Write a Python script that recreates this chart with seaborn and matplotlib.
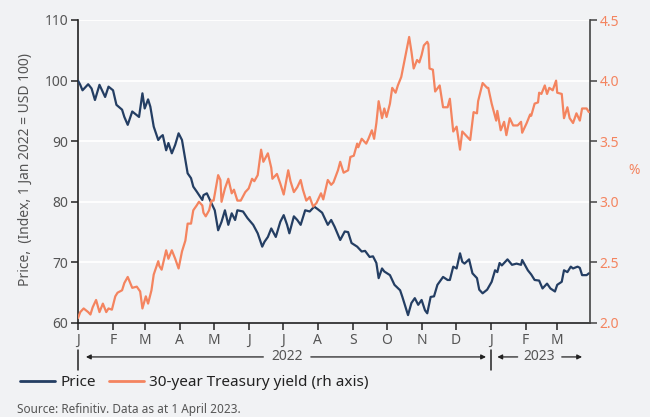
import matplotlib
matplotlib.use("Agg")
import matplotlib.pyplot as plt
import matplotlib.dates as mdates
import matplotlib.transforms as mtransforms
from matplotlib.lines import Line2D
import seaborn as sns
import pandas as pd

# ---------------- data ----------------
price_dates = [
    "2022-01-01", "2022-01-03", "2022-01-05", "2022-01-10", "2022-01-13", "2022-01-16",
    "2022-01-20", "2022-01-25", "2022-01-28", "2022-02-01", "2022-02-04", "2022-02-09",
    "2022-02-11", "2022-02-14", "2022-02-18", "2022-02-22", "2022-02-24", "2022-02-27",
    "2022-03-01", "2022-03-04", "2022-03-06", "2022-03-09", "2022-03-13", "2022-03-15",
    "2022-03-17", "2022-03-20", "2022-03-22", "2022-03-25", "2022-03-28", "2022-03-31",
    "2022-04-03", "2022-04-06", "2022-04-08", "2022-04-11", "2022-04-13", "2022-04-16",
    "2022-04-21", "2022-04-22", "2022-04-25", "2022-04-29", "2022-05-02", "2022-05-05",
    "2022-05-08", "2022-05-11", "2022-05-14", "2022-05-17", "2022-05-20", "2022-05-22",
    "2022-05-27", "2022-05-31", "2022-06-05", "2022-06-09", "2022-06-13", "2022-06-15",
    "2022-06-18", "2022-06-21", "2022-06-25", "2022-06-29", "2022-07-02", "2022-07-05",
    "2022-07-07", "2022-07-11", "2022-07-14", "2022-07-17", "2022-07-21", "2022-07-25",
    "2022-07-29", "2022-08-01", "2022-08-05", "2022-08-10", "2022-08-13", "2022-08-16",
    "2022-08-21", "2022-08-25", "2022-08-28", "2022-08-31", "2022-09-05", "2022-09-09",
    "2022-09-12", "2022-09-16", "2022-09-19", "2022-09-22", "2022-09-24", "2022-09-27",
    "2022-09-29", "2022-10-04", "2022-10-08", "2022-10-13", "2022-10-15", "2022-10-20",
    "2022-10-23", "2022-10-26", "2022-10-29", "2022-11-01", "2022-11-04", "2022-11-06",
    "2022-11-09", "2022-11-12", "2022-11-15", "2022-11-20", "2022-11-24", "2022-11-26",
    "2022-11-29", "2022-12-02", "2022-12-05", "2022-12-07", "2022-12-09", "2022-12-13",
    "2022-12-16", "2022-12-20", "2022-12-22", "2022-12-25", "2022-12-29", "2023-01-02",
    "2023-01-05", "2023-01-07", "2023-01-09", "2023-01-11", "2023-01-13", "2023-01-16",
    "2023-01-20", "2023-01-24", "2023-01-28", "2023-01-29", "2023-02-03", "2023-02-06",
    "2023-02-09", "2023-02-13", "2023-02-16", "2023-02-20", "2023-02-23", "2023-02-27",
    "2023-03-01", "2023-03-05", "2023-03-07", "2023-03-10", "2023-03-13", "2023-03-15",
    "2023-03-19", "2023-03-21", "2023-03-23", "2023-03-27", "2023-03-29",
]
price_values = [
    100.0, 99.3, 98.4, 99.4, 98.7, 96.8,
    99.3, 97.3, 99.0, 98.4, 96.0, 95.2,
    94.0, 92.7, 94.9, 94.3, 94.0, 97.9,
    95.4, 96.9, 95.7, 92.4, 90.2, 90.7,
    91.0, 88.5, 89.7, 88.0, 89.4, 91.3,
    90.2, 86.9, 84.7, 83.9, 82.5, 81.7,
    80.3, 81.1, 81.4, 79.8, 78.6, 75.3,
    76.7, 78.6, 76.2, 78.1, 77.0, 78.6,
    78.4, 77.3, 76.2, 74.8, 72.6, 73.4,
    74.2, 75.6, 74.2, 76.7, 77.8, 76.2,
    74.8, 77.6, 77.0, 76.2, 78.6, 78.4,
    79.2, 78.8, 78.2, 76.2, 77.0, 75.9,
    73.7, 75.1, 75.0, 73.2, 72.6, 71.8,
    71.9, 70.9, 71.0, 69.9, 67.4, 69.0,
    68.5, 67.9, 66.3, 65.4, 64.3, 61.3,
    63.3, 64.1, 63.0, 63.8, 62.1, 61.6,
    64.3, 64.4, 66.3, 67.6, 67.1, 67.1,
    69.3, 69.0, 71.5, 70.1, 69.8, 70.5,
    68.2, 67.4, 65.5, 64.9, 65.5, 66.8,
    68.7, 68.4, 69.9, 69.5, 69.9, 70.5,
    69.6, 69.8, 69.6, 70.4, 68.7, 68.0,
    67.1, 67.0, 65.7, 66.5, 65.7, 65.2,
    66.3, 66.8, 68.7, 68.4, 69.3, 69.0,
    69.3, 69.1, 67.9, 67.9, 68.2,
]

yield_dates = [
    "2022-01-01", "2022-01-03", "2022-01-06", "2022-01-10", "2022-01-12", "2022-01-14",
    "2022-01-17", "2022-01-20", "2022-01-23", "2022-01-26", "2022-01-28", "2022-01-31",
    "2022-02-03", "2022-02-05", "2022-02-09", "2022-02-11", "2022-02-14", "2022-02-18",
    "2022-02-22", "2022-02-25", "2022-02-27", "2022-03-02", "2022-03-04", "2022-03-07",
    "2022-03-09", "2022-03-13", "2022-03-14", "2022-03-16", "2022-03-20", "2022-03-22",
    "2022-03-25", "2022-03-28", "2022-03-31", "2022-04-03", "2022-04-06", "2022-04-08",
    "2022-04-11", "2022-04-13", "2022-04-16", "2022-04-18", "2022-04-21", "2022-04-22",
    "2022-04-24", "2022-04-27", "2022-04-29", "2022-05-01", "2022-05-05", "2022-05-07",
    "2022-05-08", "2022-05-11", "2022-05-14", "2022-05-17", "2022-05-19", "2022-05-22",
    "2022-05-25", "2022-05-29", "2022-06-01", "2022-06-04", "2022-06-06", "2022-06-09",
    "2022-06-12", "2022-06-14", "2022-06-18", "2022-06-21", "2022-06-22", "2022-06-26",
    "2022-06-29", "2022-07-02", "2022-07-06", "2022-07-08", "2022-07-11", "2022-07-14",
    "2022-07-17", "2022-07-19", "2022-07-22", "2022-07-25", "2022-07-28", "2022-07-31",
    "2022-08-04", "2022-08-06", "2022-08-10", "2022-08-13", "2022-08-15", "2022-08-19",
    "2022-08-21", "2022-08-24", "2022-08-28", "2022-08-30", "2022-09-02", "2022-09-05",
    "2022-09-06", "2022-09-09", "2022-09-13", "2022-09-15", "2022-09-18", "2022-09-20",
    "2022-09-22", "2022-09-24", "2022-09-27", "2022-09-29", "2022-10-01", "2022-10-04",
    "2022-10-06", "2022-10-09", "2022-10-11", "2022-10-14", "2022-10-17", "2022-10-21",
    "2022-10-23", "2022-10-25", "2022-10-28", "2022-10-30", "2022-11-01", "2022-11-03",
    "2022-11-06", "2022-11-07", "2022-11-08", "2022-11-11", "2022-11-13", "2022-11-17",
    "2022-11-20", "2022-11-24", "2022-11-26", "2022-11-29", "2022-12-02", "2022-12-05",
    "2022-12-07", "2022-12-11", "2022-12-14", "2022-12-17", "2022-12-20", "2022-12-21",
    "2022-12-25", "2022-12-29", "2022-12-30", "2023-01-02", "2023-01-06", "2023-01-07",
    "2023-01-10", "2023-01-13", "2023-01-15", "2023-01-18", "2023-01-21", "2023-01-25",
    "2023-01-28", "2023-01-29", "2023-02-02", "2023-02-05", "2023-02-06", "2023-02-09",
    "2023-02-12", "2023-02-13", "2023-02-15", "2023-02-18", "2023-02-20", "2023-02-22",
    "2023-02-25", "2023-02-28", "2023-03-01", "2023-03-05", "2023-03-07", "2023-03-10",
    "2023-03-12", "2023-03-15", "2023-03-18", "2023-03-21", "2023-03-23", "2023-03-27",
    "2023-03-29",
]
yield_values = [
    2.04, 2.09, 2.12, 2.09, 2.07, 2.13,
    2.19, 2.09, 2.16, 2.09, 2.12, 2.11,
    2.22, 2.25, 2.27, 2.33, 2.38, 2.29,
    2.30, 2.26, 2.12, 2.22, 2.16, 2.27,
    2.40, 2.51, 2.47, 2.44, 2.60, 2.53,
    2.60, 2.53, 2.45, 2.59, 2.68, 2.82,
    2.82, 2.93, 2.97, 3.00, 2.97, 2.91,
    2.88, 2.93, 3.01, 3.01, 3.22, 3.18,
    3.00, 3.11, 3.19, 3.07, 3.10, 3.01,
    3.01, 3.08, 3.11, 3.19, 3.17, 3.22,
    3.43, 3.33, 3.40, 3.28, 3.19, 3.23,
    3.15, 3.06, 3.26, 3.17, 3.08, 3.12,
    3.18, 3.10, 3.01, 3.04, 2.96, 2.99,
    3.07, 3.02, 3.18, 3.14, 3.16, 3.26,
    3.33, 3.24, 3.26, 3.37, 3.38, 3.48,
    3.45, 3.52, 3.48, 3.52, 3.59, 3.52,
    3.65, 3.83, 3.69, 3.77, 3.70, 3.81,
    3.94, 3.90, 3.96, 4.03, 4.17, 4.36,
    4.24, 4.10, 4.17, 4.15, 4.21, 4.29,
    4.32, 4.30, 4.10, 4.09, 3.91, 3.96,
    3.78, 3.78, 3.85, 3.58, 3.62, 3.43,
    3.58, 3.54, 3.51, 3.74, 3.73, 3.83,
    3.98, 3.94, 3.94, 3.81, 3.67, 3.75,
    3.59, 3.66, 3.55, 3.69, 3.63, 3.63,
    3.66, 3.57, 3.65, 3.72, 3.71, 3.81,
    3.82, 3.90, 3.89, 3.96, 3.89, 3.94,
    3.92, 4.00, 3.90, 3.89, 3.69, 3.78,
    3.69, 3.65, 3.73, 3.67, 3.77, 3.77,
    3.74,
]

month_labels = ["J", "F", "M", "A", "M", "J", "J", "A", "S", "O", "N", "D", "J", "F", "M"]
left_ticks = [60, 70, 80, 90, 100, 110]
right_ticks = [2.0, 2.5, 3.0, 3.5, 4.0, 4.5]
price_label = "Price"
yield_label = "30-year Treasury yield (rh axis)"
left_title = "Price,  (Index, 1 Jan 2022 = USD 100)"
source_text = "Source: Refinitiv. Data as at 1 April 2023."

# ---------------- style ----------------
BG = "#f1f2f4"
NAVY = "#243e63"
ORANGE = "#f4845f"
GREY = "#555555"
DARK = "#222222"

sns.set_theme(style="white")
plt.rcParams["font.family"] = ["Noto Sans", "DejaVu Sans"]

price_df = pd.DataFrame({"date": pd.to_datetime(price_dates), "value": price_values})
yield_df = pd.DataFrame({"date": pd.to_datetime(yield_dates), "value": yield_values})

fig = plt.figure(figsize=(6.5, 4.17), dpi=100, facecolor=BG)
ax = fig.add_axes([78 / 650, 1 - 323 / 417, (590 - 78) / 650, (323 - 20) / 417])
ax.set_facecolor(BG)
ax2 = ax.twinx()

for y in left_ticks[1:]:
    ax.axhline(y, color="white", lw=1.3, zorder=0)

sns.lineplot(data=price_df, x="date", y="value", ax=ax, color=NAVY, lw=1.6, zorder=3)
sns.lineplot(data=yield_df, x="date", y="value", ax=ax2, color=ORANGE, lw=1.6, zorder=3)

xmin = pd.Timestamp("2022-01-01")
xmax = pd.Timestamp("2023-03-30")
ax.set_xlim(xmin, xmax)
ax.set_ylim(60, 110)
ax2.set_ylim(2.0, 4.5)

ax.set_yticks(left_ticks)
ax.set_yticklabels([str(t) for t in left_ticks])
ax2.set_yticks(right_ticks)
ax2.set_yticklabels([f"{t:.1f}" for t in right_ticks])

month_pos = pd.date_range("2022-01-01", periods=len(month_labels), freq="MS")
ax.set_xticks(month_pos)
ax.set_xticklabels(month_labels)

ax.set_xlabel("")
ax.set_ylabel("")
ax2.set_ylabel("")

for a in (ax, ax2):
    a.spines["top"].set_visible(False)
ax.spines["right"].set_visible(False)
ax2.spines["left"].set_visible(False)
ax2.spines["bottom"].set_visible(False)
ax.spines["left"].set_color(DARK)
ax.spines["bottom"].set_color(DARK)
ax2.spines["right"].set_color("#444444")
for s in ("left", "bottom"):
    ax.spines[s].set_linewidth(1.2)
ax2.spines["right"].set_linewidth(1.2)

ax.tick_params(axis="y", length=5, width=1.1, color=DARK, labelcolor=GREY, labelsize=10, pad=2, left=True)
ax.tick_params(axis="x", length=5, width=1.1, color=DARK, labelcolor=GREY, labelsize=10, pad=2, bottom=True)
ax2.tick_params(axis="y", length=5, width=1.1, color="#444444", labelcolor=ORANGE, labelsize=10, pad=2, right=True)

# axis titles
fig.text(25 / 650, 1 - 170 / 417, left_title, rotation=90, ha="center", va="center",
         color=GREY, fontsize=10)
fig.text(634 / 650, 1 - 171 / 417, "%", ha="center", va="center", color=ORANGE, fontsize=10)

# year brackets beneath the axis
trans = mtransforms.blended_transform_factory(ax.transData, ax.transAxes)
D = lambda s: mdates.date2num(pd.Timestamp(s))
ybar0, ybar1, yarr = -0.089, -0.155, -0.112
for d in ("2022-01-01", "2023-01-01"):
    ax.plot([D(d), D(d)], [ybar0, ybar1], transform=trans, color=DARK, lw=1.1, clip_on=False)

arrow_kw = dict(arrowstyle="-|>", color=DARK, lw=0.9, mutation_scale=7, shrinkA=0, shrinkB=0)


def arrow(tip, tail):
    ax.annotate("", xy=(D(tip), yarr), xytext=(D(tail), yarr), xycoords=trans,
                textcoords=trans, arrowprops=arrow_kw, annotation_clip=False)


arrow("2022-01-08", "2022-06-14")
arrow("2022-12-28", "2022-07-26")
ax.text(D("2022-07-05"), yarr, "2022", transform=trans, ha="center", va="center", color=GREY, fontsize=10)
arrow("2023-01-07", "2023-01-25")
arrow("2023-03-23", "2023-03-05")
ax.text(D("2023-02-13"), yarr, "2023", transform=trans, ha="center", va="center", color=GREY, fontsize=10)

# legend
handles = [Line2D([], [], color=NAVY, lw=2), Line2D([], [], color=ORANGE, lw=2)]
fig.legend(handles, [price_label, yield_label], loc="center left",
           bbox_to_anchor=(20 / 650, 1 - 383 / 417), ncol=2, frameon=False,
           fontsize=11, handlelength=2.3, handletextpad=0.35, columnspacing=0.85,
           labelcolor=DARK, borderaxespad=0, borderpad=0)

fig.text(17 / 650, 1 - 409 / 417, source_text, ha="left", va="center", color=GREY, fontsize=8.5)

fig.savefig("out.png", dpi=100, facecolor=BG)
